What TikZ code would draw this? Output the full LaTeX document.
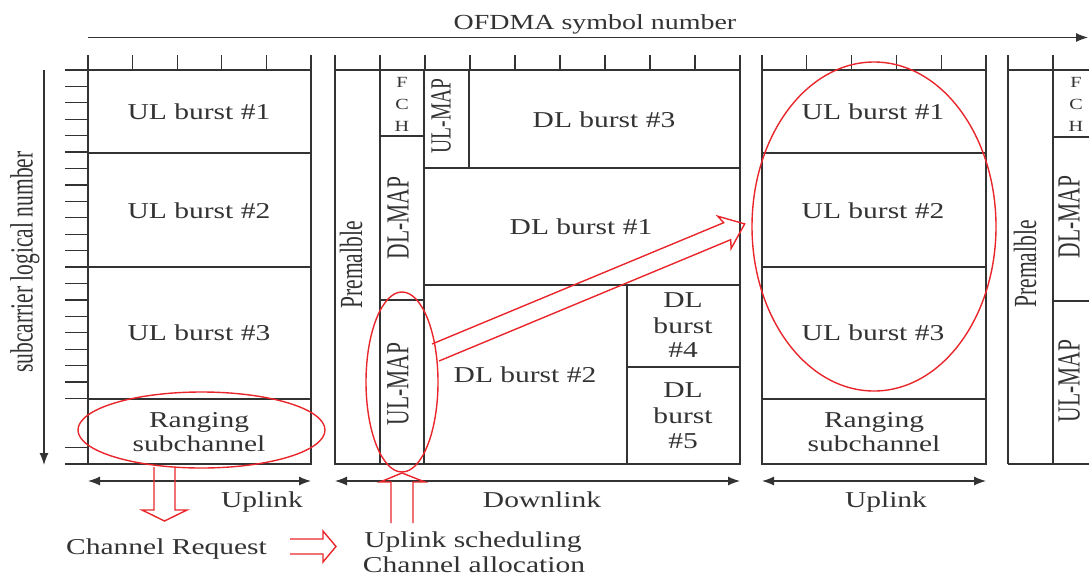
\documentclass[tikz,border=0pt]{standalone}
\usepackage{fontspec}
\setmainfont{Liberation Serif}
\usepackage{graphicx}
\usetikzlibrary{arrows.meta}
\definecolor{ln}{HTML}{333333}
\definecolor{rd}{HTML}{E8262B}
\newcommand\hs[1]{\scalebox{1.3}[1]{#1}}
\newcommand\vs[1]{\scalebox{1}[1.5]{#1}}
\begin{document}
\begin{tikzpicture}[x=1pt,y=-1pt,
  frm/.style={draw=ln, line width=1.25pt},
  rl/.style={draw=rd, line width=1.4pt, line join=miter},
  dbl/.style={draw=ln, line width=1.2pt, {Latex[length=12pt,width=9pt]}-{Latex[length=12pt,width=9pt]}},
  sgl/.style={draw=ln, line width=1.2pt, -{Latex[length=12pt,width=9pt]}},
  txt/.style={anchor=base, inner sep=0pt, text=ln, font=\fontsize{22.7}{24}\selectfont},
  stxt/.style={txt, font=\fontsize{15.5}{18}\selectfont},
  rtxt/.style={rotate=90, anchor=center, inner sep=0pt, text=ln, font=\fontsize{21.5}{24}\selectfont},
  rstxt/.style={rtxt, font=\fontsize{19.5}{22}\selectfont},
]
\useasboundingbox (0,0) rectangle (1089,576);
\clip (0,0) rectangle (1089,576);

% axes
\coordinate (ax0) at (88,37.5);
\coordinate (ax1) at (1088,37.5);
\draw[sgl] (ax0) -- (ax1);
\node[txt, font=\fontsize{21.5}{24}\selectfont] (ofdma) at (595,29) {\hs{OFDMA symbol number}};
\coordinate (ay0) at (44,70);
\coordinate (ay1) at (44,465);
\draw[sgl] (ay0) -- (ay1);
\node[rtxt] (sub) at (25,262) {\vs{subcarrier logical number}};

% left ticks
\foreach \k in {0,...,20,23,24} \draw[frm] (65,{70+16.42*\k}) -- (88,{70+16.42*\k});
% top ticks
\foreach \xx in {88,132.6,177.2,221.8,266.4,311} \draw[frm] (\xx,55) -- (\xx,70);
\foreach \k in {0,...,9} \draw[frm] ({335+45*\k},55) -- ({335+45*\k},70);
\foreach \k in {0,...,5} \draw[frm] ({762+44.8*\k},55) -- ({762+44.8*\k},70);

% left uplink frame
\draw[frm] (88,70) rectangle (311,464);
\draw[frm] (88,153) -- (311,153);
\draw[frm] (88,267) -- (311,267);
\draw[frm] (88,399) -- (311,399);
\node[txt] (lu1) at (199,119) {\hs{UL burst \#1}};
\node[txt] (lu2) at (199,218) {\hs{UL burst \#2}};
\node[txt] (lu3) at (199,340) {\hs{UL burst \#3}};
\node[txt] (lr1) at (199,427) {\hs{Ranging}};
\node[txt] (lr2) at (199,451) {\hs{subchannel}};

% downlink frame
\draw[frm] (335,70) rectangle (740,464);
\draw[frm] (380,55) -- (380,464);
\draw[frm] (424,70) -- (424,464);
\draw[frm] (380,136) -- (424,136);
\draw[frm] (380,300) -- (424,300);
\draw[frm] (469,70) -- (469,168);
\draw[frm] (424,168) -- (740,168);
\draw[frm] (424,285) -- (740,285);
\draw[frm] (627,285) -- (627,464);
\draw[frm] (627,367) -- (740,367);
\node[rtxt] (pre1) at (351,265) {\vs{Premalble}};
\node[stxt] (f1) at (402,87) {\hs{F}};
\node[stxt] (c1) at (402,109) {\hs{C}};
\node[stxt] (h1) at (402,131) {\hs{H}};
\node[rtxt] (dlm1) at (398,218) {\vs{DL-MAP}};
\node[rtxt] (ulm1) at (398,384) {\vs{UL-MAP}};
\node[rstxt] (ulm0) at (441,116) {\vs{UL-MAP}};
\node[txt] (d3) at (604,127) {\hs{DL burst \#3}};
\node[txt] (d1) at (581,234) {\hs{DL burst \#1}};
\node[txt] (d2) at (525,382) {\hs{DL burst \#2}};
\node[txt] (d4a) at (683,307) {\hs{DL}};
\node[txt] (d4b) at (683,333) {\hs{burst}};
\node[txt] (d4c) at (683,357) {\hs{\#4}};
\node[txt] (d5a) at (683,397) {\hs{DL}};
\node[txt] (d5b) at (683,423) {\hs{burst}};
\node[txt] (d5c) at (683,448) {\hs{\#5}};

% right uplink frame
\draw[frm] (762,70) rectangle (986,464);
\draw[frm] (762,153) -- (986,153);
\draw[frm] (762,267) -- (986,267);
\draw[frm] (762,399) -- (986,399);
\node[txt] (ru1) at (873,119) {\hs{UL burst \#1}};
\node[txt] (ru2) at (873,218) {\hs{UL burst \#2}};
\node[txt] (ru3) at (873,340) {\hs{UL burst \#3}};
\node[txt] (rr1) at (874,427) {\hs{Ranging}};
\node[txt] (rr2) at (874,451) {\hs{subchannel}};

% partial next frame
\draw[frm] (1008,55) -- (1008,464);
\draw[frm] (1053,55) -- (1053,464);
\draw[frm] (1008,70) -- (1095,70);
\draw[frm] (1008,464) -- (1095,464);
\draw[frm] (1053,137) -- (1095,137);
\draw[frm] (1053,301) -- (1095,301);
\node[rtxt] (pre2) at (1025,264) {\vs{Premalble}};
\node[stxt] (f2) at (1076,87) {\hs{F}};
\node[stxt] (c2) at (1076,109) {\hs{C}};
\node[stxt] (h2) at (1076,131) {\hs{H}};
\node[rtxt] (dlm2) at (1069,217) {\vs{DL-MAP}};
\node[rtxt] (ulm2) at (1069,381) {\vs{UL-MAP}};

% span arrows
\coordinate (u0) at (88,481); \coordinate (u1) at (311,481);
\coordinate (dd0) at (335,481); \coordinate (dd1) at (740,481);
\coordinate (v0) at (762,481); \coordinate (v1) at (986,481);
\draw[dbl] (u0) -- (u1);
\draw[dbl] (dd0) -- (dd1);
\draw[dbl] (v0) -- (v1);
\node[txt] (upl1) at (262,507) {\hs{Uplink}};
\node[txt] (dnl) at (542,507) {\hs{Downlink}};
\node[txt] (upl2) at (886,507) {\hs{Uplink}};

% bottom texts
\node[txt] (creq) at (166.5,554) {\hs{Channel Request}};
\node[txt] (usch) at (473,547) {\hs{Uplink scheduling}};
\node[txt] (calc) at (474,572) {\hs{Channel allocation}};

% red ellipses
\draw[rl] (201.5,430) ellipse [x radius=123.5pt, y radius=38pt];
\draw[rl] (402,382) ellipse [x radius=36pt, y radius=90pt];
\draw[rl] (874,226.5) ellipse [x radius=122pt, y radius=164.5pt];

% red hollow arrows
\draw[rl] (154,467) -- (154,510) -- (142,510) -- (164.5,521) -- (187,510) -- (175,510) -- (175,467);
\draw[rl] (290,539) -- (323,539) -- (323,531) -- (336,546.5) -- (323,562) -- (323,554) -- (290,554);
\draw[rl] (391,523) -- (391,482) -- (380,482) -- (402,473) -- (425,482) -- (413,482) -- (413,523);
\draw[rl] (432,344) -- (723.7,222.7) -- (717.7,216.2) -- (744.7,223.9) -- (731.1,248.5) -- (730.7,239.7) -- (439,361);
\end{tikzpicture}
\end{document}
